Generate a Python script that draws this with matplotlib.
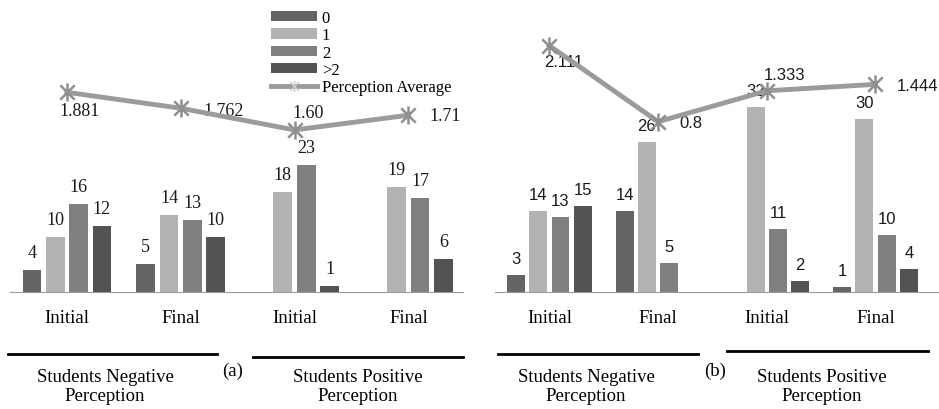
import numpy as np
import matplotlib
matplotlib.use("Agg")
import matplotlib.pyplot as plt
from matplotlib.lines import Line2D
from matplotlib.patches import Patch
from matplotlib.path import Path

# --- data ---
phases = ["Initial", "Final", "Initial", "Final"]
series_names = ["0", "1", "2", ">2"]

# panel (a): counts per category, one list per series
a_counts = [
    [4, 5, 0, 0],       # 0
    [10, 14, 18, 19],   # 1
    [16, 13, 23, 17],   # 2
    [12, 10, 1, 6],     # >2
]
a_avg = [1.881, 1.762, 1.60, 1.71]
a_avg_text = ["1.881", "1.762", "1.60", "1.71"]

# panel (b)
b_counts = [
    [3, 14, 0, 1],
    [14, 26, 32, 30],
    [13, 5, 11, 10],
    [15, 0, 2, 4],
]
b_avg = [2.111, 0.8, 1.333, 1.444]
b_avg_text = ["2.111", "0.8", "1.333", "1.444"]

BAR_COLORS = ["#656565", "#b3b3b3", "#808080", "#535353"]
LINE_COLOR = "#9b9b9b"

# "x" crossed by a vertical stroke
STAR = Path([(-1, -1), (1, 1), (-1, 1), (1, -1), (0, -1.25), (0, 1.25)],
            [Path.MOVETO, Path.LINETO] * 3)

W, H = 939, 410
fig = plt.figure(figsize=(W / 100, H / 100), dpi=100)


def px_axes(x0, x1, y_top, y_base):
    return fig.add_axes([x0 / W, (H - y_base) / H, (x1 - x0) / W, (y_base - y_top) / H])


def draw_panel(ax, counts, avg, avg_text, xlim, ylim, ylim2, num_font, num_size,
               label_offsets, label_ha):
    x = np.arange(len(phases))
    pitch, width = 0.205, 0.165
    for i, vals in enumerate(counts):
        pos = x + (i - 1.5) * pitch
        for p, v in zip(pos, vals):
            if v == 0:
                continue
            ax.bar(p, v, width=width, color=BAR_COLORS[i], zorder=2)
            ax.annotate(str(v), (p, v), xytext=(0, 9), textcoords="offset pixels",
                        ha="center", va="bottom", family=num_font, fontsize=num_size,
                        color="#1a1a1a")
    ax.set_xlim(*xlim)
    ax.set_ylim(*ylim)
    ax.set_xticks(x)
    ax.set_xticklabels(phases, family="Liberation Serif", fontsize=13.5)
    ax.tick_params(axis="x", length=0, pad=12)
    ax.set_yticks([])
    for s in ["top", "left", "right"]:
        ax.spines[s].set_visible(False)
    ax.spines["bottom"].set_color("#9a9a9a")

    ax2 = ax.twinx()
    ax2.plot(x, avg, color=LINE_COLOR, lw=3.5, marker=STAR, ms=13, mew=1.8,
             mec="#8f8f8f", zorder=3)
    ax2.set_ylim(*ylim2)
    ax2.set_yticks([])
    for s in ax2.spines.values():
        s.set_visible(False)
    for xi, v, t, off, ha in zip(x, avg, avg_text, label_offsets, label_ha):
        ax2.annotate(t, (xi, v), xytext=off, textcoords="offset pixels",
                     ha=ha, va="center", family=num_font, fontsize=num_size,
                     color="#1a1a1a", zorder=1)
    return ax2


# panel (a): baseline y=293 px, 5.53 px per count, 134 px per unit of average
ax_a = px_axes(10, 463, 10, 293)
draw_panel(ax_a, a_counts, a_avg, a_avg_text,
           xlim=(-0.5, 3.48), ylim=(0, 283 / 5.53),
           ylim2=(1.881 - (293 - 93.3) / 134, 1.881 + (93.3 - 10) / 134),
           num_font="Liberation Serif", num_size=13,
           label_offsets=[(13, -18), (23, -2), (14, 17), (21, 0)],
           label_ha=["center", "left", "center", "left"])

# panel (b): baseline y=293 px, 5.78 px per count, 58 px per unit of average
ax_b = px_axes(495, 938, 10, 293.3)
draw_panel(ax_b, b_counts, b_avg, b_avg_text,
           xlim=(-0.5, 3.575), ylim=(0, 283.3 / 5.78),
           ylim2=(0.8 - (293.3 - 122.7) / 58, 0.8 + (122.7 - 10) / 58),
           num_font="Liberation Sans", num_size=12,
           label_offsets=[(14, -16), (21, -1), (18, 16), (21, -1)],
           label_ha=["center", "left", "center", "left"])

# legend (shared)
handles = [Patch(facecolor=c, edgecolor="none") for c in BAR_COLORS]
handles.append(Line2D([], [], color=LINE_COLOR, lw=3.5, marker=STAR, ms=8,
                      mec="#c8c8c8", mew=1))
fig.legend(handles, series_names + ["Perception Average"], loc="upper left",
           bbox_to_anchor=(271 / W, 1 - 11 / H), frameon=False,
           prop={"family": "Liberation Serif", "size": 12},
           borderpad=0, borderaxespad=0, labelspacing=0.08,
           handlelength=2.75, handleheight=0.6, handletextpad=0.3)

# group brackets and captions
def hline(x0, x1, y):
    fig.add_artist(Line2D([x0 / W, x1 / W], [1 - y / H, 1 - y / H],
                          transform=fig.transFigure, color="black", lw=2))


def caption(x, y, s):
    fig.text(x / W, 1 - y / H, s, ha="center", va="center",
             family="Liberation Serif", fontsize=13.5, linespacing=1.2)


hline(8, 217, 355)
hline(253, 463, 358)
hline(498, 698, 355)
hline(727, 928, 352)

caption(105, 387, "Students Negative\nPerception")
caption(358, 387, "Students Positive\nPerception")
caption(586, 387, "Students Negative\nPerception")
caption(822, 387, "Students Positive\nPerception")
caption(233, 371, "(a)")
caption(715, 371, "(b)")

fig.savefig("out.png", dpi=100)
